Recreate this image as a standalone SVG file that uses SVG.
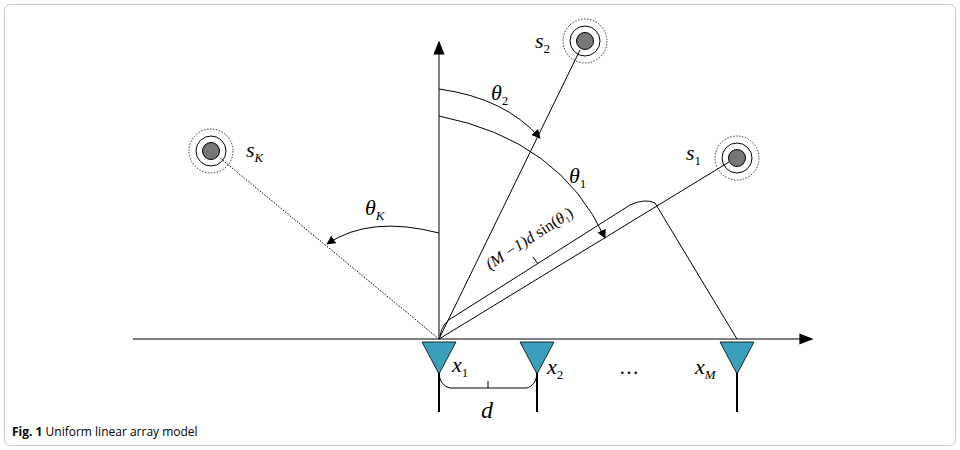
<svg xmlns="http://www.w3.org/2000/svg" width="960" height="450" viewBox="0 0 960 450">
<defs>
<marker id="ar" viewBox="0 0 10 10" refX="9" refY="5" markerWidth="9" markerHeight="9" orient="auto-start-reverse" markerUnits="userSpaceOnUse"><path d="M0,0 L10,5 L0,10 z" fill="#000"/></marker>
<marker id="ax" viewBox="0 0 10 10" refX="9" refY="5" markerWidth="14" markerHeight="14" orient="auto" markerUnits="userSpaceOnUse"><path d="M0,1 L10,5 L0,9 z" fill="#000"/></marker>
</defs>
<style>
.m{font-family:"Liberation Serif",serif;font-style:italic;fill:#000}
.sub{font-size:13px}
.n{font-style:normal}
.ln{stroke:#000;fill:none;stroke-width:1}
.dot{stroke:#000;fill:none;stroke-dasharray:1.5 1.5;stroke-width:1}
.ant{fill:#3aa0bd;stroke:#000;stroke-width:0.8}
</style>
<rect x="4.5" y="4.5" width="951" height="441" rx="6" fill="#fff" stroke="#c8c8c8"/>
<text x="12" y="436" font-family="Open Sans, sans-serif" font-size="12" fill="#000"><tspan font-weight="bold">Fig. 1</tspan> Uniform linear array model</text>
<g id="connectors">
<line x1="133" y1="339" x2="812" y2="339" class="ln" stroke-width="1.2" marker-end="url(#ax)"/>
<line x1="439" y1="339" x2="439" y2="42" class="ln" stroke-width="1.2" marker-end="url(#ax)"/>
<line x1="439" y1="339" x2="220" y2="158" class="dot"/>
<line x1="439" y1="339" x2="580" y2="50" class="ln" stroke-width="0.8"/>
<line x1="439" y1="339" x2="729" y2="162" class="ln" stroke-width="0.8"/>
<path d="M439,89 Q505,98 540,138" class="ln" marker-end="url(#ar)"/>
<path d="M439,116 Q560,140 605,238" class="ln" marker-end="url(#ar)"/>
<path d="M439,233 Q370,215 327,244" class="ln" marker-end="url(#ar)"/>
<path d="M440,336 Q442,322 455,316 L630,205 Q645,198 655,203 L737,339" class="ln"/>
<line x1="533" y1="257" x2="538" y2="264" class="ln"/>
<path d="M439,375 Q441,386 450,388 L527,388 Q535,386 537,375" class="ln"/>
<line x1="488" y1="381" x2="488" y2="388" class="ln"/>
</g>
<g id="sK"><circle cx="211" cy="151" r="22" fill="none" stroke="#000" stroke-width="0.8" stroke-dasharray="1.5 1.5"/><circle cx="211" cy="151" r="15" fill="none" stroke="#000"/><circle cx="211" cy="151" r="8.5" fill="#777" stroke="#000"/>
<text x="246" y="157" class="m" font-size="22">s<tspan class="sub" dy="5">K</tspan></text></g>
<g id="s2"><circle cx="585" cy="41" r="22" fill="none" stroke="#000" stroke-width="0.8" stroke-dasharray="1.5 1.5"/><circle cx="585" cy="41" r="15" fill="none" stroke="#000"/><circle cx="585" cy="41" r="8.5" fill="#777" stroke="#000"/>
<text x="535" y="48" class="m" font-size="22">s<tspan class="sub n" dy="5">2</tspan></text></g>
<g id="s1"><circle cx="737" cy="158" r="22" fill="none" stroke="#000" stroke-width="0.8" stroke-dasharray="1.5 1.5"/><circle cx="737" cy="158" r="15" fill="none" stroke="#000"/><circle cx="737" cy="158" r="8.5" fill="#777" stroke="#000"/>
<text x="686" y="160" class="m" font-size="22">s<tspan class="sub n" dy="5">1</tspan></text></g>
<g id="angles">
<text x="491" y="100" class="m" font-size="22">θ<tspan class="sub n" dy="5">2</tspan></text>
<text x="569" y="183" class="m" font-size="22">θ<tspan class="sub n" dy="5">1</tspan></text>
<text x="365" y="215" class="m" font-size="22">θ<tspan class="sub" dy="5">K</tspan></text>
<text transform="translate(490,270) rotate(-33)" class="m" font-size="16">(M −1)d <tspan class="n">sin(</tspan>θ<tspan class="n" font-size="9" dy="3">1</tspan><tspan class="n" dy="-3">)</tspan></text>
</g>
<g id="x1"><line x1="439" y1="372" x2="439" y2="412" stroke="#000" stroke-width="2"/><polygon points="422,342 456,342 439,374" class="ant"/>
<text x="452" y="372" class="m" font-size="22">x<tspan class="sub n" dy="5">1</tspan></text></g>
<g id="x2"><line x1="537" y1="372" x2="537" y2="412" stroke="#000" stroke-width="2"/><polygon points="520,342 554,342 537,374" class="ant"/>
<text x="547" y="374" class="m" font-size="22">x<tspan class="sub n" dy="5">2</tspan></text></g>
<g id="xM"><line x1="737" y1="372" x2="737" y2="412" stroke="#000" stroke-width="2"/><polygon points="720,342 754,342 737,374" class="ant"/>
<text x="695" y="374" class="m" font-size="22">x<tspan class="sub" dy="5">M</tspan></text></g>
<text x="619" y="374" font-family="Liberation Serif,serif" font-size="20">…</text>
<text x="481" y="418" class="m" font-size="24">d</text>
</svg>
